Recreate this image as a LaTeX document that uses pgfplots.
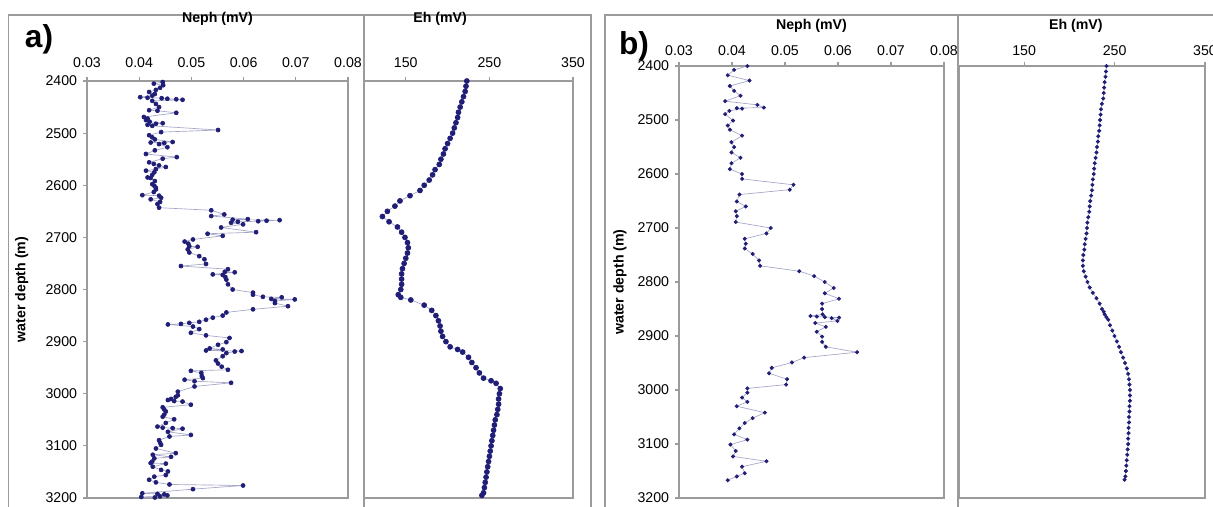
\documentclass[border=0pt]{standalone}
\usepackage{pgfplots}
\usepackage{pgfplotstable}
\pgfplotsset{compat=1.18}
\usepackage{fontspec}
\setmainfont{Liberation Sans}
\definecolor{mk}{RGB}{32,30,118}
\definecolor{ln}{RGB}{165,165,200}
\definecolor{fr}{RGB}{155,155,155}

% Panel a, Neph: value depth
\pgfplotstableread{
v d
0.0445 2402
0.0428 2405
0.0446 2408
0.0440 2413
0.0432 2417
0.0419 2421
0.0430 2425
0.0425 2428
0.0402 2431
0.0416 2432
0.0443 2433
0.0454 2434
0.0471 2435
0.0483 2436
0.0425 2438
0.0432 2444
0.0438 2450
0.0419 2456
0.0435 2457
0.0471 2461
0.0409 2469
0.0416 2472
0.0413 2475
0.0420 2478
0.0445 2481
0.0432 2482
0.0416 2484
0.0425 2486
0.0551 2494
0.0442 2498
0.0419 2504
0.0425 2508
0.0430 2512
0.0464 2517
0.0422 2518
0.0448 2519
0.0438 2521
0.0454 2527
0.0430 2533
0.0413 2540
0.0472 2546
0.0445 2549
0.0419 2556
0.0428 2559
0.0438 2562
0.0451 2565
0.0432 2569
0.0413 2572
0.0429 2575
0.0425 2580
0.0416 2585
0.0422 2586
0.0430 2592
0.0425 2598
0.0429 2601
0.0432 2605
0.0432 2608
0.0428 2613
0.0406 2619
0.0438 2620
0.0442 2624
0.0422 2627
0.0440 2632
0.0435 2636
0.0438 2643
0.0538 2648
0.0563 2656
0.0538 2659
0.0608 2665
0.0579 2666
0.0669 2667
0.0644 2668
0.0628 2669
0.0589 2670
0.0576 2672
0.0599 2675
0.0557 2681
0.0624 2690
0.0531 2693
0.0560 2697
0.0503 2704
0.0487 2708
0.0494 2712
0.0496 2717
0.0512 2718
0.0493 2723
0.0496 2729
0.0515 2736
0.0525 2742
0.0528 2751
0.0480 2755
0.0570 2761
0.0564 2766
0.0583 2767
0.0541 2771
0.0560 2772
0.0565 2776
0.0567 2781
0.0570 2790
0.0579 2800
0.0618 2806
0.0618 2810
0.0637 2814
0.0673 2815
0.0653 2818
0.0698 2819
0.0660 2822
0.0660 2826
0.0685 2832
0.0618 2838
0.0567 2844
0.0560 2850
0.0541 2854
0.0528 2858
0.0515 2862
0.0496 2864
0.0480 2866
0.0455 2867
0.0503 2871
0.0515 2876
0.0499 2883
0.0528 2888
0.0573 2893
0.0567 2901
0.0551 2906
0.0535 2913
0.0560 2915
0.0528 2917
0.0596 2918
0.0583 2919
0.0567 2922
0.0560 2928
0.0547 2936
0.0551 2942
0.0558 2948
0.0570 2954
0.0499 2956
0.0519 2960
0.0520 2966
0.0522 2970
0.0487 2973
0.0506 2976
0.0576 2979
0.0506 2986
0.0474 2996
0.0474 3003
0.0470 3006
0.0461 3010
0.0455 3012
0.0467 3014
0.0483 3015
0.0499 3021
0.0445 3026
0.0448 3030
0.0451 3034
0.0448 3040
0.0445 3044
0.0467 3049
0.0451 3056
0.0435 3063
0.0445 3065
0.0464 3066
0.0483 3067
0.0455 3073
0.0499 3079
0.0458 3082
0.0438 3089
0.0440 3094
0.0442 3098
0.0432 3105
0.0470 3114
0.0426 3117
0.0461 3121
0.0429 3124
0.0425 3130
0.0422 3133
0.0451 3134
0.0426 3140
0.0442 3146
0.0455 3149
0.0451 3156
0.0429 3159
0.0419 3165
0.0432 3170
0.0458 3174
0.0599 3176
0.0503 3183
0.0406 3191
0.0435 3192
0.0448 3193
0.0454 3195
0.0440 3197
0.0404 3198
0.0430 3199
}\nephA

% Panel a, Eh
\pgfplotstableread{
v d
223 2400
222 2410
221 2420
219 2430
217 2440
215 2450
213 2460
212 2470
210 2480
208 2490
206 2500
203 2510
200 2520
197 2530
195 2540
192 2550
190 2560
185 2570
182 2580
178 2590
172 2600
167 2610
155 2620
143 2630
137 2640
128 2650
122 2660
130 2670
140 2680
145 2690
149 2700
152 2710
153 2720
152 2730
150 2740
148 2750
146 2760
145 2770
145 2780
145 2790
144 2800
141 2810
144 2815
156 2820
172 2830
181 2840
186 2850
189 2860
191 2870
192 2880
194 2890
198 2900
203 2910
212 2915
218 2920
225 2930
229 2940
234 2950
238 2960
243 2970
252 2975
258 2980
263 2990
262 3000
261 3010
261 3020
260 3030
259 3040
257 3050
256 3060
255 3070
254 3080
253 3090
252 3100
251 3110
250 3120
249 3130
248 3140
247 3150
246 3160
245 3170
244 3180
243 3190
241 3195
}\ehA

% Panel b, Neph
\pgfplotstableread{
v d
0.0429 2400
0.0404 2407
0.0392 2417
0.0433 2427
0.0396 2437
0.0404 2446
0.0416 2455
0.0387 2465
0.0448 2472
0.0460 2477
0.0409 2478
0.0419 2479
0.0395 2483
0.0387 2489
0.0402 2501
0.0392 2510
0.0396 2518
0.0419 2529
0.0399 2541
0.0404 2550
0.0399 2560
0.0416 2570
0.0399 2580
0.0396 2591
0.0419 2600
0.0419 2609
0.0516 2620
0.0509 2629
0.0414 2638
0.0409 2651
0.0426 2660
0.0407 2669
0.0409 2678
0.0407 2689
0.0473 2700
0.0465 2710
0.0424 2720
0.0426 2729
0.0424 2738
0.0439 2748
0.0451 2760
0.0453 2770
0.0527 2780
0.0555 2789
0.0575 2800
0.0592 2811
0.0575 2821
0.0602 2831
0.0570 2840
0.0570 2850
0.0571 2860
0.0548 2863
0.0560 2864
0.0575 2865
0.0602 2866
0.0588 2867
0.0599 2872
0.0557 2876
0.0577 2883
0.0560 2892
0.0570 2901
0.0570 2911
0.0577 2920
0.0636 2930
0.0536 2940
0.0513 2949
0.0475 2959
0.0470 2969
0.0504 2980
0.0502 2990
0.0429 2997
0.0429 3005
0.0419 3014
0.0429 3022
0.0409 3030
0.0462 3042
0.0439 3052
0.0424 3061
0.0414 3071
0.0404 3082
0.0429 3092
0.0397 3101
0.0407 3113
0.0402 3123
0.0465 3132
0.0419 3142
0.0424 3154
0.0409 3160
0.0392 3167
}\nephB

% Panel b, Eh
\pgfplotstableread{
v d
241 2400
240.5 2410
240 2420
239 2430
238.5 2440
238 2450
237.5 2460
236 2470
235 2480
234.5 2490
234 2500
233.5 2510
233 2520
232 2530
231.5 2540
230.5 2550
230 2560
229 2570
228 2580
227.5 2590
227 2600
226 2610
225.5 2620
225 2630
224 2640
223 2650
222.5 2660
222 2670
221 2680
220 2690
219.5 2700
219 2710
218 2720
217 2730
216.5 2740
215.5 2750
215 2760
215 2770
216 2780
218 2790
220 2800
222.5 2810
226 2820
230 2830
233.5 2840
236 2850
238 2855
239 2860
241 2865
243 2870
245 2880
247.5 2890
250 2900
252.5 2910
255 2920
257 2930
259.5 2940
261.5 2950
263.5 2960
265 2970
266 2980
266.5 2990
267 3000
267 3010
267 3020
266.5 3030
266.5 3040
266 3050
266 3060
265.5 3070
265.5 3080
265 3090
265 3100
264.5 3110
264 3120
263.5 3130
263 3140
262.5 3150
262 3160
261 3166
}\ehB

\pgfplotsset{
 depth/.style={
   scale only axis, anchor=south west,
   y dir=reverse, ymin=2400, ymax=3200,
   axis line style={fr, line width=0.9pt},
   tick style={fr, line width=0.7pt},
   major tick length=2.4pt, tick align=outside,
   xtick pos=right, xticklabel pos=right,
   ytick pos=left,
   scaled x ticks=false, scaled y ticks=false,
   tick label style={font=\fontsize{8.5}{10}\selectfont},
   /pgf/number format/assume math mode=true,
   /pgf/number format/set thousands separator={},
   label style={font=\fontsize{8.5}{10}\selectfont\bfseries},
 },
 neph/.style={xmin=0.03, xmax=0.08, xtick={0.03,0.04,0.05,0.06,0.07,0.08},
   xticklabel style={/pgf/number format/fixed, /pgf/number format/fixed zerofill, /pgf/number format/precision=2},
   ytick={2400,2500,2600,2700,2800,2900,3000,3100,3200}},
 eh/.style={xtick={150,250,350}, ytick=\empty},
 ser/.style={color=ln, line width=0.4pt, mark=*, mark size=#1, mark options={draw=mk, fill=mk}},
}

\begin{document}
\begin{tikzpicture}
\path[use as bounding box] (0,0) rectangle (727.8pt,303.6pt);
% chart-area frames
\draw[fr, line width=0.8pt] (5pt,-2pt) -- (5pt,294.6pt) -- (354.6pt,294.6pt) -- (354.6pt,-2pt);
\draw[fr, line width=0.8pt] (218.4pt,-2pt) -- (218.4pt,294.6pt);
\draw[fr, line width=0.8pt] (363pt,-2pt) -- (363pt,294.6pt) -- (730pt,294.6pt);
\draw[fr, line width=0.8pt] (574.8pt,-2pt) -- (574.8pt,294.6pt);

\node[font=\fontsize{19}{20}\selectfont\bfseries] at (23.4pt,280pt) {a)};
\node[font=\fontsize{19}{20}\selectfont\bfseries] at (380.4pt,276pt) {b)};

% a) Neph
\begin{axis}[depth, neph, at={(52.2pt,4.8pt)}, width=156.6pt, height=250.2pt,
  xticklabel style={yshift=2pt},
  xlabel={Neph (mV)}, xlabel style={at={(axis description cs:0.5,1.15)}, anchor=center},
  ylabel={water depth (m)}, ylabel style={at={(axis description cs:-0.25,0.5)}, anchor=center}]
\addplot[ser=1.2pt] table[x=v,y=d] {\nephA};
\end{axis}

% a) Eh
\begin{axis}[depth, eh, at={(218.4pt,4.8pt)}, width=125.4pt, height=250.2pt,
  xmin=100, xmax=350, xticklabel style={yshift=2pt},
  xlabel={Eh (mV)}, xlabel style={at={(axis description cs:0.364,1.15)}, anchor=center}]
\addplot[ser=1.5pt] table[x=v,y=d] {\ehA};
\end{axis}

% b) Neph
\begin{axis}[depth, neph, at={(407.4pt,4.8pt)}, width=159pt, height=259.2pt,
  xlabel={Neph (mV)}, xlabel style={at={(axis description cs:0.5,1.093)}, anchor=center},
  ylabel={water depth (m)}, ylabel style={at={(axis description cs:-0.223,0.5)}, anchor=center}]
\addplot[ser=1.0pt] table[x=v,y=d] {\nephB};
\end{axis}

% b) Eh
\begin{axis}[depth, eh, at={(575.4pt,4.8pt)}, width=147.6pt, height=259.2pt,
  xmin=78, xmax=350,
  xlabel={Eh (mV)}, xlabel style={at={(axis description cs:0.475,1.093)}, anchor=center}]
\addplot[ser=1.0pt] table[x=v,y=d] {\ehB};
\end{axis}
\end{tikzpicture}
\end{document}
